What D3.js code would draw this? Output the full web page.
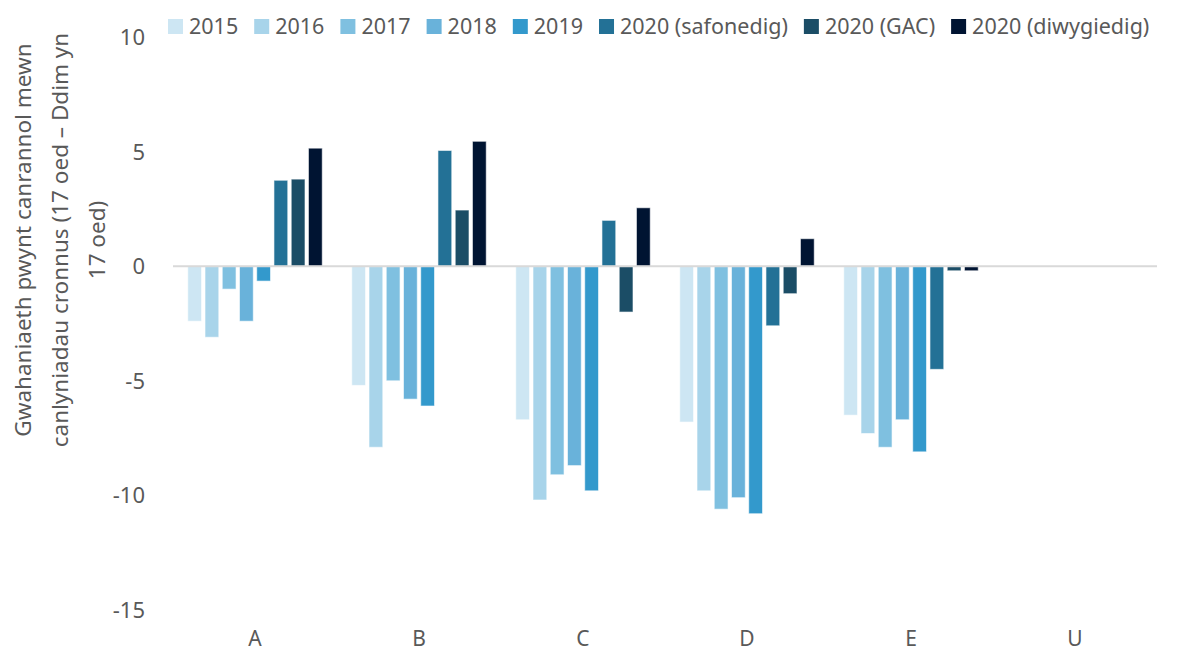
<!DOCTYPE html>
<html>
<head>
<meta charset="utf-8">
<script src="https://cdn.jsdelivr.net/npm/d3@7"></script>
<style>
  body { margin: 0; background: #fff; }
  text { font-family: "Noto Sans", "Open Sans", sans-serif; fill: #595959; }
</style>
</head>
<body>
<script>
var categories = ["A", "B", "C", "D", "E", "U"];
var seriesNames = ["2015", "2016", "2017", "2018", "2019", "2020 (safonedig)", "2020 (GAC)", "2020 (diwygiedig)"];
var seriesColors = ["#cde6f3", "#a8d4ea", "#7fc0e0", "#69b2da", "#3399cc", "#237196", "#1b4d66", "#001432"];

// one array per series, values for A..U
var v2015 = [-2.4, -5.2, -6.7, -6.8, -6.5, 0];
var v2016 = [-3.1, -7.9, -10.2, -9.8, -7.3, 0];
var v2017 = [-1.0, -5.0, -9.1, -10.6, -7.9, 0];
var v2018 = [-2.4, -5.8, -8.7, -10.1, -6.7, 0];
var v2019 = [-0.65, -6.1, -9.8, -10.8, -8.1, 0];
var v2020saf = [3.75, 5.05, 2.0, -2.6, -4.5, 0];
var v2020gac = [3.8, 2.45, -2.0, -1.2, -0.2, 0];
var v2020diw = [5.15, 5.45, 2.55, 1.2, -0.2, 0];
var seriesValues = [v2015, v2016, v2017, v2018, v2019, v2020saf, v2020gac, v2020diw];

var yTicks = [10, 5, 0, -5, -10, -15];

var width = 1192, height = 654;
var margin = {top: 37, right: 35, bottom: 44, left: 173};

var svg = d3.select("body").append("svg")
    .attr("width", width)
    .attr("height", height);

var x0 = d3.scaleBand()
    .domain(categories)
    .range([margin.left, width - margin.right])
    .paddingInner(0.18)
    .paddingOuter(0.09);

var x1 = d3.scaleBand()
    .domain(seriesNames)
    .range([0, x0.bandwidth()])
    .paddingInner(0.2);

var y = d3.scaleLinear()
    .domain([-15, 10])
    .range([height - margin.bottom, margin.top]);

// y tick labels
svg.append("g")
  .selectAll("text")
  .data(yTicks)
  .enter().append("text")
    .attr("x", 145)
    .attr("y", function(d) { return y(d); })
    .attr("dy", "0.36em")
    .attr("text-anchor", "end")
    .style("font-size", "22px")
    .text(function(d) { return d; });

// bars
var groups = svg.append("g")
  .selectAll("g")
  .data(categories)
  .enter().append("g")
    .attr("transform", function(d) { return "translate(" + x0(d) + ",0)"; });

groups.selectAll("rect")
  .data(function(c, ci) {
      return seriesNames.map(function(s, si) { return {series: s, idx: si, value: seriesValues[si][ci]}; });
  })
  .enter().append("rect")
    .filter(function(d) { return d.value !== 0; })
    .attr("x", function(d) { return x1(d.series); })
    .attr("y", function(d) { return y(Math.max(0, d.value)); })
    .attr("width", x1.bandwidth())
    .attr("height", function(d) { return Math.abs(y(d.value) - y(0)); })
    .attr("fill", function(d) { return seriesColors[d.idx]; })
    .attr("stroke", "#ffffff")
    .attr("stroke-opacity", 0.6)
    .attr("stroke-width", 1);

// zero line
svg.append("line")
    .attr("x1", margin.left)
    .attr("x2", width - margin.right)
    .attr("y1", y(0))
    .attr("y2", y(0))
    .attr("stroke", "#d9d9d9")
    .attr("stroke-width", 2);

// category labels
svg.append("g")
  .selectAll("text")
  .data(categories)
  .enter().append("text")
    .attr("x", function(d) { return x0(d) + x0.bandwidth() / 2; })
    .attr("y", 646)
    .attr("text-anchor", "middle")
    .style("font-size", "21px")
    .text(function(d) { return d; });

// y axis title
var titleLines = ["Gwahaniaeth pwynt canrannol mewn", "canlyniadau cronnus (17 oed \u2013 Ddim yn", "17 oed)"];
var title = svg.append("text")
    .attr("transform", "translate(23,240) rotate(-90)")
    .attr("text-anchor", "middle")
    .style("font-size", "22.5px");
title.selectAll("tspan")
  .data(titleLines)
  .enter().append("tspan")
    .attr("x", 0)
    .attr("dy", function(d, i) { return i === 0 ? "0.35em" : "1.65em"; })
    .text(function(d) { return d; });

// legend
var legend = svg.append("g");
var lx = 168;
seriesNames.forEach(function(s, i) {
    legend.append("rect")
        .attr("x", lx).attr("y", 19)
        .attr("width", 15).attr("height", 15)
        .attr("fill", seriesColors[i]);
    var t = legend.append("text")
        .attr("x", lx + 21).attr("y", 26)
        .attr("dy", "0.36em")
        .style("font-size", "21.5px")
        .text(s);
    lx += 21 + t.node().getComputedTextLength() + 16;
});
</script>
</body>
</html>
